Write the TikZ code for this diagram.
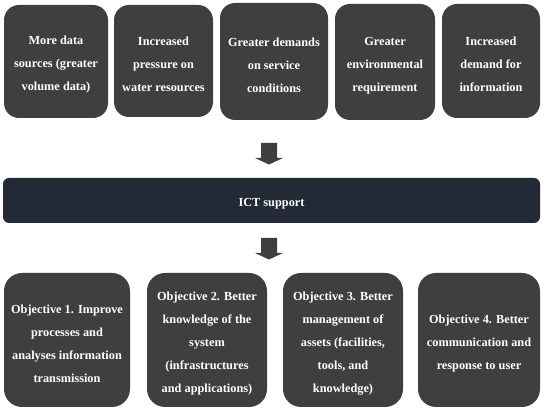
\documentclass[tikz,border=0pt]{standalone}
\usepackage{fontspec}
\setmainfont{Liberation Serif}
\begin{document}
\begin{tikzpicture}[x=1pt,y=-1pt,
  box/.style={fill=boxgray, rounded corners=15pt, inner sep=0pt},
  obox/.style={box, rounded corners=18pt},
  boxtext/.style={text=white, align=center, inner sep=0pt, yshift=-3.5pt,
    font=\bfseries\fontsize{12.3}{23}\selectfont},
  ictbox/.style={fill=ictnavy, rounded corners=6pt, inner sep=0pt},
  blockarrow/.style={fill=boxgray}]
\definecolor{boxgray}{HTML}{3F3F3F}
\definecolor{ictnavy}{HTML}{222A36}
\useasboundingbox (0,0) rectangle (547,411);
% top row
\node[box, minimum width=104pt, minimum height=113pt,
  label={[boxtext]center:{More data\\sources (greater\\volume data)}}] (t1) at (56,61.5) {};
\node[box, minimum width=99pt, minimum height=112pt,
  label={[boxtext]center:{Increased\\pressure on\\water resources}}] (t2) at (163.5,61) {};
\node[box, minimum width=108pt, minimum height=117pt,
  label={[boxtext]center:{Greater demands\\on service\\conditions}}] (t3) at (274,61.5) {};
\node[box, minimum width=100pt, minimum height=116pt,
  label={[boxtext]center:{Greater\\environmental\\requirement}}] (t4) at (385,62) {};
\node[box, minimum width=98pt, minimum height=114pt,
  label={[boxtext]center:{Increased\\demand for\\information}}] (t5) at (491,61) {};
% arrow 1
\coordinate (a1) at (269,143);
\fill[blockarrow] (a1) ++(-8,0) -- ++(16,0) -- ++(0,15) -- ++(6,0) -- ++(-14,6.5) -- ++(-14,-6.5) -- ++(6,0) -- cycle;
% ICT
\node[ictbox, minimum width=537pt, minimum height=45pt,
  label={[boxtext]center:{ICT support}}] (ict) at (271.5,200.5) {};
% arrow 2
\coordinate (a2) at (269,238);
\fill[blockarrow] (a2) ++(-8,0) -- ++(16,0) -- ++(0,15) -- ++(6,0) -- ++(-14,6.5) -- ++(-14,-6.5) -- ++(6,0) -- cycle;
% bottom row
\node[obox, minimum width=126pt, minimum height=134pt,
  label={[boxtext]center:{Objective 1. Improve\\processes and\\analyses information\\transmission}}] (b1) at (67,340) {};
\node[obox, minimum width=120pt, minimum height=134pt,
  label={[boxtext]center:{Objective 2. Better\\knowledge of the\\system\\(infrastructures\\and applications)}}] (b2) at (207,340) {};
\node[obox, minimum width=120pt, minimum height=134pt,
  label={[boxtext]center:{Objective 3. Better\\management of\\assets (facilities,\\tools, and\\knowledge)}}] (b3) at (343,340) {};
\node[obox, minimum width=122pt, minimum height=134pt,
  label={[boxtext]center:{Objective 4. Better\\communication and\\response to user}}] (b4) at (479,340) {};
\end{tikzpicture}
\end{document}
